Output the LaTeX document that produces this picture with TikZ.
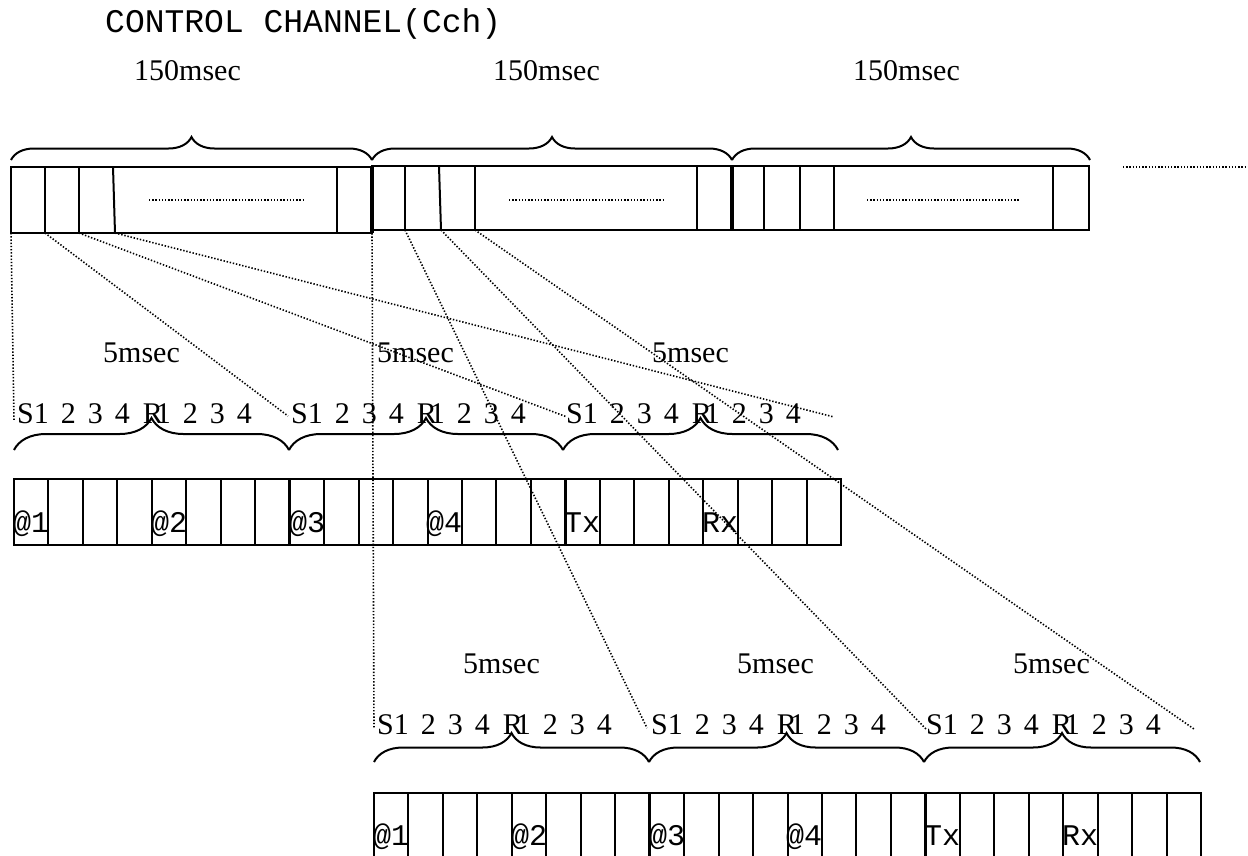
\documentclass[tikz,border=0pt]{standalone}
\usepackage{fontspec}
\setmainfont{Liberation Serif}
\newfontfamily\cour{Liberation Mono}
\usetikzlibrary{decorations.pathreplacing}
\newcommand\slotgrp{S1\hspace{12pt}2\hspace{12pt}3\hspace{12pt}4\hspace{13pt}R\kern-7pt 1\hspace{12pt}2\hspace{12pt}3\hspace{12pt}4}
\begin{document}
\begin{tikzpicture}[x=1pt,y=-1pt,
  ln/.style={line width=2pt},
  thk/.style={line width=3.5pt},
  dotl/.style={line width=1.6pt,dash pattern=on 1.4pt off 1.8pt},
  lbl/.style={font=\fontsize{30}{36}\selectfont,inner sep=0pt,anchor=base west},
  mono/.style={font=\cour\fontsize{30}{36}\selectfont,inner sep=0pt,anchor=base west},
  brc/.style={decorate,line width=2pt,decoration={brace,amplitude=#1}}]
\fill[white] (0,0) rectangle (1248,855);
\useasboundingbox (0,0) rectangle (1248,855);

% titles
\node[font=\cour\fontsize{33}{40}\selectfont,inner sep=0pt,anchor=base west] (title) at (105,32) {CONTROL CHANNEL(Cch)};
\node[lbl] (p1) at (134,80) {150msec};
\node[lbl] (p2) at (493,80) {150msec};
\node[lbl] (p3) at (853,80) {150msec};

% top braces
\draw[brc=23pt] (11,160) -- (372,160);
\draw[brc=23pt] (372,160) -- (732,160);
\draw[brc=23pt] (732,160) -- (1090,160);

% top bars
\draw[ln] (11,167) rectangle (372,233);
\draw[ln] (372,166) rectangle (732,230);
\draw[ln] (732,166) rectangle (1089,230);
\draw[thk] (372,166) -- (372,233);
\draw[thk] (732,166) -- (732,230);
\draw[ln] (45,167) -- (45,233);
\draw[ln] (79,167) -- (79,233);
\draw[ln] (113,167) -- (115,233);
\draw[ln] (337,167) -- (337,233);
\draw[ln] (405,166) -- (405,230);
\draw[ln] (439,166) -- (441,230);
\draw[ln] (475,166) -- (475,230);
\draw[ln] (697,166) -- (697,230);
\draw[ln] (764,166) -- (764,230);
\draw[ln] (800,166) -- (800,230);
\draw[ln] (834,166) -- (834,230);
\draw[ln] (1053,166) -- (1053,230);
\draw[dotl] (149,200) -- (303,200);
\draw[dotl] (509,200) -- (663,200);
\draw[dotl] (867,200) -- (1020,200);
\draw[dotl] (1123,167) -- (1248,167);

% connector anchors
\coordinate (a0) at (11,233);
\coordinate (a1) at (45,233);
\coordinate (a2) at (79,233);
\coordinate (a3) at (115,233);
\coordinate (b0) at (372,230);
\coordinate (b1) at (405,230);
\coordinate (b2) at (441,230);
\coordinate (b3) at (475,230);
\coordinate (m0) at (14,420);
\coordinate (m1) at (288,416);
\coordinate (m2) at (567,417);
\coordinate (m3) at (834,417);
\coordinate (n0) at (374,728);
\coordinate (n1) at (647,728);
\coordinate (n2) at (926,729);
\coordinate (n3) at (1194,729);

% middle row labels
\node[lbl] (f1) at (103,362) {5msec};
\node[lbl] (f2) at (377,362) {5msec};
\node[lbl] (f3) at (652,362) {5msec};
\node[lbl] (s1) at (17,423) {\slotgrp};
\node[lbl] (s2) at (291,423) {\slotgrp};
\node[lbl] (s3) at (566,423) {\slotgrp};
\draw[brc=32pt] (14,450) -- (289,450);
\draw[brc=32pt] (289,450) -- (563,450);
\draw[brc=32pt] (563,450) -- (838,450);

% middle row cells
\draw[ln] (14,479) rectangle (841,545);
\foreach \k in {1,...,23} \draw[ln] ({14+34.458*\k},479) -- ({14+34.458*\k},545);
\draw[thk] (289.7,479) -- (289.7,545);
\draw[thk] (565.3,479) -- (565.3,545);
\node[mono] (c1) at (13,532) {@1};
\node[mono] (c2) at (151,532) {@2};
\node[mono] (c3) at (289,532) {@3};
\node[mono] (c4) at (426,532) {@4};
\node[mono] (c5) at (564,532) {Tx};
\node[mono] (c6) at (702,532) {Rx};

% bottom row labels
\node[lbl] (h1) at (463,673) {5msec};
\node[lbl] (h2) at (737,673) {5msec};
\node[lbl] (h3) at (1013,673) {5msec};
\node[lbl] (r1) at (377,734) {\slotgrp};
\node[lbl] (r2) at (651,734) {\slotgrp};
\node[lbl] (r3) at (926,734) {\slotgrp};
\draw[brc=29pt] (374,762) -- (649,762);
\draw[brc=29pt] (649,762) -- (924,762);
\draw[brc=29pt] (924,762) -- (1200,762);

% bottom row cells
\draw[ln] (374,860) -- (374,793) -- (1201,793) -- (1201,860);
\foreach \k in {1,...,23} \draw[ln] ({374+34.458*\k},793) -- ({374+34.458*\k},860);
\draw[thk] (649.7,793) -- (649.7,860);
\draw[thk] (925.3,793) -- (925.3,860);
\node[mono] (d1) at (373,845) {@1};
\node[mono] (d2) at (511,845) {@2};
\node[mono] (d3) at (649,845) {@3};
\node[mono] (d4) at (786,845) {@4};
\node[mono] (d5) at (924,845) {Tx};
\node[mono] (d6) at (1062,845) {Rx};

% dotted connectors
\draw[dotl] (a0) -- (m0);
\draw[dotl] (a1) -- (m1);
\draw[dotl] (a2) -- (m2);
\draw[dotl] (a3) -- (m3);
\draw[dotl] (b0) -- (n0);
\draw[dotl] (b1) -- (n1);
\draw[dotl] (b2) -- (n2);
\draw[dotl] (b3) -- (n3);
\end{tikzpicture}
\end{document}
